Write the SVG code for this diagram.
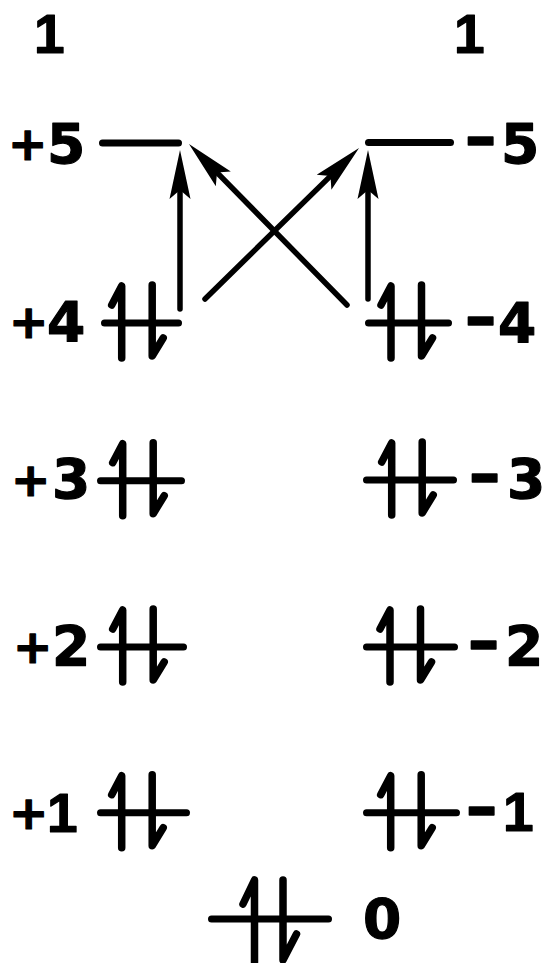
<svg xmlns="http://www.w3.org/2000/svg" width="545" height="963" viewBox="0 0 545 963">
<style>
.lbl{font-family:"DejaVu Sans","Liberation Sans",sans-serif;font-weight:bold;font-size:55px;fill:#000;stroke:#000;stroke-width:1.2;stroke-linejoin:round}
.pl{font-size:47px}
.mn{font-family:"Liberation Sans","DejaVu Sans",sans-serif;font-weight:normal;font-size:100px;stroke-width:1.6}
.one{font-family:"Liberation Sans","DejaVu Sans",sans-serif;font-size:55px}
.lvl{stroke:#000;stroke-width:7;stroke-linecap:round;fill:none}
.e{stroke:#000;stroke-width:7.5;stroke-linecap:round;stroke-linejoin:round;fill:none}
.shaft{stroke:#000;stroke-width:5.5;stroke-linecap:round;fill:none;marker-end:url(#ah)}
</style>
<defs>
<marker id="ah" markerUnits="userSpaceOnUse" viewBox="-50 -13 52 26" markerWidth="52" markerHeight="26" refX="-38" refY="0" orient="auto">
<path d="M0,0 L-49,-10.5 L-40,0 L-49,10.5 Z" fill="#000"/>
</marker>
<g id="pair">
<path class="e" d="M-10,-18 L0,-37 L0,35"/>
<path class="e" d="M30.5,-38 L30.5,33 L41.5,15"/>
</g>
</defs>
<rect width="545" height="963" fill="#fff"/>

<g id="top-marks">
<text class="lbl one" x="34" y="53">1</text>
<text class="lbl one" x="454" y="53">1</text>
</g>

<g id="level-p5">
<text class="lbl"><tspan class="pl" x="8" y="160">+</tspan><tspan x="47" y="163">5</tspan></text>
<path class="lvl" d="M102.5,143 H178.5"/>
</g>
<g id="level-m5">
<path class="lvl" d="M368.5,142.6 H450.5"/>
<text class="lbl"><tspan class="mn" x="464" y="168">-</tspan><tspan x="501" y="163">5</tspan></text>
</g>
<g id="level-p4">
<text class="lbl"><tspan class="pl" x="9" y="338">+</tspan><tspan x="47" y="341">4</tspan></text>
<path class="lvl" d="M104.5,323 H178.5"/>
<use href="#pair" x="121.7" y="323"/>
</g>
<g id="level-m4">
<path class="lvl" d="M368.5,323 H448.5"/>
<use href="#pair" x="391" y="323"/>
<text class="lbl"><tspan class="mn" x="464" y="348">-</tspan><tspan x="498" y="342">4</tspan></text>
</g>
<g id="level-p3">
<text class="lbl"><tspan class="pl" x="11" y="496">+</tspan><tspan x="52" y="498">3</tspan></text>
<path class="lvl" d="M100.5,480.7 H181.5"/>
<use href="#pair" x="122.7" y="480.7"/>
</g>
<g id="level-m3">
<path class="lvl" d="M366.5,480 H453.5"/>
<use href="#pair" x="391.7" y="480"/>
<text class="lbl"><tspan class="mn" x="468" y="505">-</tspan><tspan x="507" y="498">3</tspan></text>
</g>
<g id="level-p2">
<text class="lbl"><tspan class="pl" x="13" y="663">+</tspan><tspan x="52" y="665">2</tspan></text>
<path class="lvl" d="M100.5,647 H183.5"/>
<use href="#pair" x="122.7" y="647"/>
</g>
<g id="level-m2">
<path class="lvl" d="M366.5,647 H454.5"/>
<use href="#pair" x="390" y="647"/>
<text class="lbl"><tspan class="mn" x="467" y="672">-</tspan><tspan x="505" y="665">2</tspan></text>
</g>
<g id="level-p1">
<text class="lbl"><tspan class="pl" x="9" y="829">+</tspan><tspan class="one" x="47" y="832">1</tspan></text>
<path class="lvl" d="M100.5,812.7 H186.5"/>
<use href="#pair" x="121.7" y="812.7"/>
</g>
<g id="level-m1">
<path class="lvl" d="M366.5,812.7 H456.5"/>
<use href="#pair" x="390.7" y="812.7"/>
<text class="lbl"><tspan class="mn" x="465" y="838">-</tspan><tspan class="one" x="503" y="831">1</tspan></text>
</g>
<g id="level-0">
<path class="lvl" d="M211.5,919 H328.5"/>
<path class="e" d="M243,904 L254.5,880 L254.5,962"/>
<path class="e" d="M283,880 L283,960 L296.5,934"/>
<text class="lbl" x="363" y="938">0</text>
</g>

<g id="connectors">
<path class="shaft" d="M180,309 L180,188"/>
<path class="shaft" d="M368,299 L368,188"/>
<path class="shaft" d="M205,299 L331.9,174.6"/>
<path class="shaft" d="M347,305 L215.6,171.1"/>
</g>
</svg>
